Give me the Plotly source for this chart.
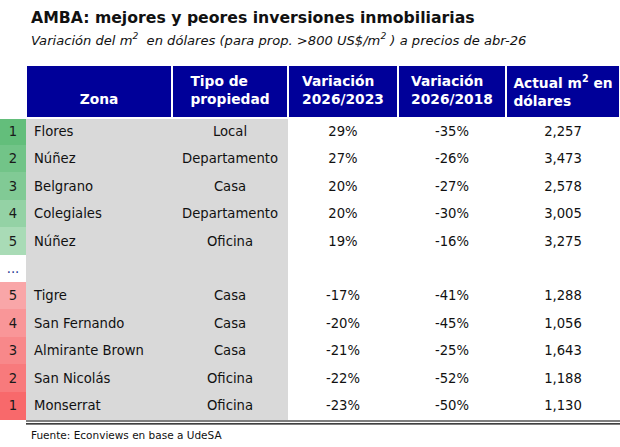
import plotly.graph_objects as go

# ---- data ----
ranks = ["1", "2", "3", "4", "5", "...", "5", "4", "3", "2", "1"]
zonas = ["Flores", "Núñez", "Belgrano", "Colegiales", "Núñez", "",
         "Tigre", "San Fernando", "Almirante Brown", "San Nicolás", "Monserrat"]
tipos = ["Local", "Departamento", "Casa", "Departamento", "Oficina", "",
         "Casa", "Casa", "Casa", "Oficina", "Oficina"]
var_2026_2023 = [29, 27, 20, 20, 19, None, -17, -20, -21, -22, -23]
var_2026_2018 = [-35, -26, -27, -30, -16, None, -41, -45, -25, -52, -50]
actual_m2_usd = [2257, 3473, 2578, 3005, 3275, None, 1288, 1056, 1643, 1188, 1130]

headers = ["", "&nbsp;<br><b>Zona</b>", "<b>Tipo de<br>propiedad</b>", "<b>Variación<br>2026/2023</b>",
           "<b>Variación<br>2026/2018</b>", "<b>Actual m<sup>2</sup> en<br>dólares</b>"]

# ---- styling ----
FONT = "DejaVu Sans"
BLUE = "#000099"
GRAY = "#d9d9d9"
rank_fill = ["#63be7b", "#72c488", "#81ca95", "#94d2a5", "#a9dbb6", "#ffffff",
             "#f9a6a8", "#f99698", "#f8888a", "#f87a7c", "#f8696b"]

def pct(v):
    return "" if v is None else f"{v}%"

def num(v):
    return "" if v is None else f"{v:,}"

n = len(ranks)
col_vals = [ranks, zonas, tipos,
            [pct(v) for v in var_2026_2023],
            [pct(v) for v in var_2026_2018],
            [num(v) for v in actual_m2_usd]]
fills = [rank_fill, [GRAY] * n, [GRAY] * n, ["#ffffff"] * n, ["#ffffff"] * n, ["#ffffff"] * n]
rank_font = ["#1a1a1a"] * n
rank_font[5] = "#1f3a93"
font_colors = [rank_font] + [["#111111"] * n] * 5

fig = go.Figure(go.Table(
    domain=dict(x=[0, 1], y=[0, 1 - 65 / 447]),
    columnwidth=[26, 146, 116, 110, 108, 114],
    header=dict(
        values=headers,
        fill_color=["#ffffff", BLUE, BLUE, BLUE, BLUE, BLUE],
        line=dict(color="#ffffff", width=1.5),
        align="center",
        font=dict(family=FONT, size=13.8, color="#ffffff"),
        height=53,
    ),
    cells=dict(
        values=col_vals,
        fill_color=fills,
        line=dict(color=fills, width=1),
        align=["center", "left", "center", "center", "center", "center"],
        font=dict(family=FONT, size=13.2, color=font_colors),
        height=27.4,
    ),
))

fig.add_annotation(x=29 / 620, y=1 - 17 / 447, xref="paper", yref="paper",
                   xanchor="left", yanchor="middle", showarrow=False,
                   text="<b>AMBA: mejores y peores inversiones inmobiliarias</b>",
                   font=dict(family=FONT, size=15.7, color="#111111"))
fig.add_annotation(x=29 / 620, y=1 - 39 / 447, xref="paper", yref="paper",
                   xanchor="left", yanchor="middle", showarrow=False,
                   text="<i>Variación del m<sup>2</sup>  en dólares (para prop. >800 US$/m<sup>2</sup> ) a precios de abr-26</i>",
                   font=dict(family=FONT, size=13.1, color="#111111"))
fig.add_annotation(x=29 / 620, y=1 - 435 / 447, xref="paper", yref="paper",
                   xanchor="left", yanchor="middle", showarrow=False,
                   text="Fuente: Econviews en base a UdeSA",
                   font=dict(family=FONT, size=10.5, color="#111111"))

for yy in (421, 423.8):
    fig.add_shape(type="line", xref="paper", yref="paper",
                  x0=26 / 620, x1=1, y0=1 - yy / 447, y1=1 - yy / 447,
                  line=dict(color="#000000", width=1.2))

fig.update_layout(width=620, height=447, margin=dict(l=0, r=0, t=0, b=0),
                  paper_bgcolor="#ffffff", plot_bgcolor="#ffffff")
fig.write_html("out.html", config={"displayModeBar": False},
               post_script="document.body.style.margin='0';document.body.style.overflow='hidden';")
